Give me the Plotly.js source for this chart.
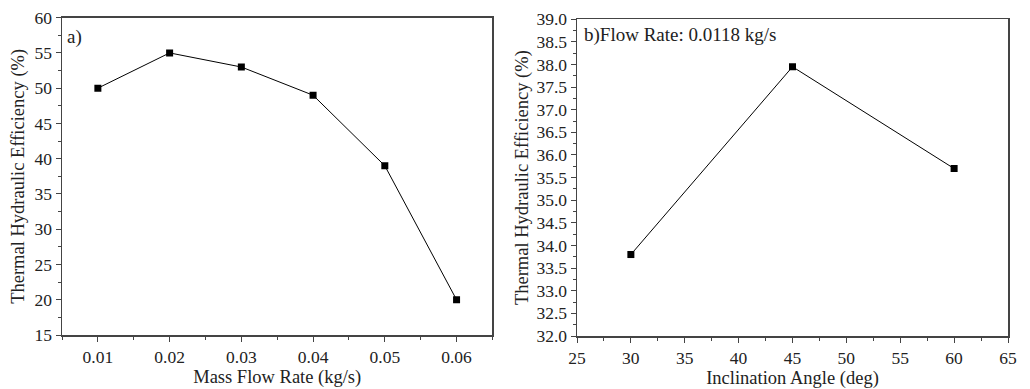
<!DOCTYPE html>
<html>
<head>
<meta charset="utf-8">
<script src="https://cdn.plot.ly/plotly-3.0.1.min.js"></script>
<style>html,body{margin:0;padding:0;background:#fff;}#chart{width:1030px;height:389px;}</style>
</head>
<body>
<div id="chart"></div>
<script>
// Panel a
const massFlowRate = [0.01, 0.02, 0.03, 0.04, 0.05, 0.06];
const efficiencyA = [50, 55, 53, 49, 39, 20];
// Panel b
const inclinationAngle = [30, 45, 60];
const efficiencyB = [33.8, 37.95, 35.7];

const xTitleA = 'Mass Flow Rate (kg/s)';
const xTitleB = 'Inclination Angle (deg)';
const yTitle = 'Thermal Hydraulic Efficiency (%)';
const labelA = 'a)';
const labelB = 'b)Flow Rate: 0.0118 kg/s';

const font = {family: 'Liberation Serif, Times New Roman, serif', color: '#222', size: 18};
const marker = {symbol: 'square', size: 7, color: '#000'};
const line = {color: '#000', width: 1};

const traces = [
  {x: massFlowRate, y: efficiencyA, type: 'scatter', mode: 'lines+markers', marker, line, xaxis: 'x', yaxis: 'y', showlegend: false},
  {x: inclinationAngle, y: efficiencyB, type: 'scatter', mode: 'lines+markers', marker, line, xaxis: 'x2', yaxis: 'y2', showlegend: false}
];

const TICK = 17.5, TITLE = 18.5;
const axisBase = {
  showline: true, linecolor: '#444', linewidth: 1.5, mirror: true,
  ticks: 'outside', ticklen: 5, tickwidth: 1, tickcolor: '#444',
  showgrid: false, zeroline: false, tickfont: {size: TICK}
};
const minorTicks = d => ({dtick: d, ticklen: 3, ticks: 'outside', tickcolor: '#444'});

const layout = {
  width: 1030, height: 389,
  margin: {l: 62, r: 22, t: 17, b: 53},
  paper_bgcolor: '#fff', plot_bgcolor: '#fff',
  font,
  xaxis: Object.assign({}, axisBase, {
    domain: [0, 0.455], range: [0.005, 0.065], tickvals: [0.01,0.02,0.03,0.04,0.05,0.06], ticktext: ['0.01','0.02','0.03','0.04','0.05','0.06'],
    minor: minorTicks(0.005),
    anchor: 'y', title: {text: xTitleA, font: {size: TITLE}, standoff: 4}
  }),
  yaxis: Object.assign({}, axisBase, {
    domain: [0.003, 0.998], range: [15, 60], dtick: 5,
    minor: minorTicks(2.5),
    anchor: 'x', title: {text: yTitle, font: {size: TITLE}, standoff: 5}
  }),
  xaxis2: Object.assign({}, axisBase, {
    domain: [0.5444, 1], range: [25, 65], dtick: 5,
    minor: minorTicks(2.5),
    anchor: 'y2', title: {text: xTitleB, font: {size: TITLE}, standoff: 4}
  }),
  yaxis2: Object.assign({}, axisBase, {
    domain: [0, 0.993], range: [32, 39], dtick: 0.5, tickformat: '.1f',
    minor: minorTicks(0.25),
    anchor: 'x2', title: {text: yTitle, font: {size: TITLE}, standoff: 3}
  }),
  annotations: [
    {text: labelA, xref: 'x domain', yref: 'y domain', x: 0.008, y: 0.94, xanchor: 'left', yanchor: 'middle', showarrow: false, font: {size: 19}},
    {text: labelB, xref: 'x2 domain', yref: 'y2 domain', x: 0.012, y: 0.95, xanchor: 'left', yanchor: 'middle', showarrow: false, font: {size: 19}}
  ]
};

Plotly.newPlot('chart', traces, layout, {displayModeBar: false, staticPlot: true});
</script>
</body>
</html>
